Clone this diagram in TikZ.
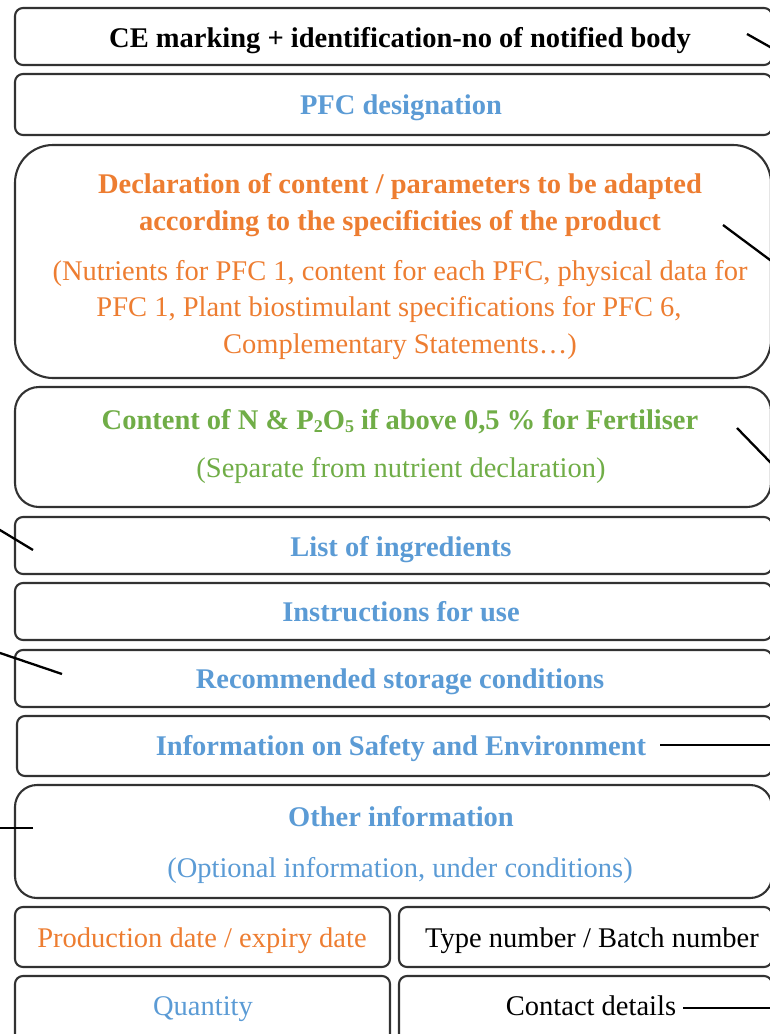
\documentclass[tikz,border=0pt]{standalone}
\usepackage{fontspec}
\setmainfont{Liberation Serif}
\definecolor{cblue}{RGB}{91,155,213}
\definecolor{corange}{RGB}{237,125,49}
\definecolor{cgreen}{RGB}{112,173,71}
\definecolor{cborder}{RGB}{50,50,50}
\newcommand{\mysub}[1]{\raisebox{-0.12em}{\fontsize{18}{18}\selectfont #1}}
\tikzset{
  box/.style={draw=cborder, line width=2.1pt, rounded corners=8pt, anchor=north west, inner sep=0pt, outer sep=0pt},
  lbl/.style={font=\fontsize{28.5}{36.5}\selectfont, anchor=base, inner sep=0pt},
  hd/.style={font=\fontsize{28.5}{36.5}\selectfont\bfseries, anchor=base, inner sep=0pt},
  conn/.style={line width=2.3pt, black},
}
\begin{document}
\begin{tikzpicture}[x=1pt,y=-1pt]
\path[use as bounding box] (0,0) rectangle (770,1034);
\clip (0,0) rectangle (770,1034);
% boxes
\node[box, minimum width=757pt, minimum height=57pt] (b1) at (15,8) {};
\node[box, minimum width=757pt, minimum height=61pt] (b2) at (15,74) {};
\node[box, rounded corners=38pt, minimum width=756pt, minimum height=233pt] (b3) at (15,145) {};
\node[box, rounded corners=24pt, minimum width=756pt, minimum height=120pt] (b4) at (15,387) {};
\node[box, minimum width=757pt, minimum height=57pt] (b5) at (15,517) {};
\node[box, minimum width=757pt, minimum height=57pt] (b6) at (15,583) {};
\node[box, minimum width=757pt, minimum height=57pt] (b7) at (15,650) {};
\node[box, minimum width=755pt, minimum height=60pt] (b8) at (17,716) {};
\node[box, rounded corners=22pt, minimum width=757pt, minimum height=113pt] (b9) at (15,785) {};
\node[box, minimum width=375pt, minimum height=60pt] (b10) at (15,907) {};
\node[box, minimum width=373pt, minimum height=60pt] (b11) at (399,907) {};
\node[box, minimum width=375pt, minimum height=70pt] (b12) at (15,976) {};
\node[box, minimum width=373pt, minimum height=70pt] (b13) at (399,976) {};
% texts
\node[hd] (t1) at (400,47) {CE marking + identification-no of notified body};
\node[hd, text=cblue] (t2) at (401,114) {PFC designation};
\node[hd, text=corange] (t3a) at (400,193) {Declaration of content / parameters to be adapted};
\node[hd, text=corange] (t3b) at (400,230) {according to the specificities of the product};
\node[lbl, text=corange] (t3c) at (400,280) {(Nutrients for PFC 1, content for each PFC, physical data for};
\node[lbl, text=corange] (t3d) at (389,316) {PFC 1, Plant biostimulant specifications for PFC 6,};
\node[lbl, text=corange] (t3e) at (400,353) {Complementary Statements…)};
\node[hd, text=cgreen] (t4a) at (400,429) {Content of N \& P\mysub{2}O\mysub{5} if above 0,5 \% for Fertiliser};
\node[lbl, text=cgreen] (t4b) at (401,477) {(Separate from nutrient declaration)};
\node[hd, text=cblue] (t5) at (401,556) {List of ingredients};
\node[hd, text=cblue] (t6) at (401,621) {Instructions for use};
\node[hd, text=cblue] (t7) at (400,688) {Recommended storage conditions};
\node[hd, text=cblue] (t8) at (401,755) {Information on Safety and Environment};
\node[hd, text=cblue] (t9a) at (401,826) {Other information};
\node[lbl, text=cblue] (t9b) at (400,877) {(Optional information, under conditions)};
\node[lbl, text=corange] (t10) at (202,947) {Production date / expiry date};
\node[lbl] (t11) at (592,947) {Type number / Batch number};
\node[lbl, text=cblue] (t12) at (203,1015) {Quantity};
\node[lbl] (t13) at (591,1015) {Contact details};
% connector ends
\coordinate (a1) at (747,34);   \coordinate (z1) at (780,52.6);
\coordinate (a3) at (723,225);  \coordinate (z3) at (780,267.4);
\coordinate (a4) at (737,428);  \coordinate (z4) at (780,472.3);
\coordinate (a5) at (33,550);   \coordinate (z5) at (-10,524);
\coordinate (a7) at (62,674);   \coordinate (z7) at (-10,649.6);
\coordinate (a9) at (33,828);   \coordinate (z9) at (-10,828);
\coordinate (a8) at (660,745);  \coordinate (z8) at (780,745);
\coordinate (a13) at (683,1008); \coordinate (z13) at (780,1008);
\draw[conn] (a1) -- (z1);
\draw[conn] (a3) -- (z3);
\draw[conn] (a4) -- (z4);
\draw[conn] (a5) -- (z5);
\draw[conn] (a7) -- (z7);
\draw[conn] (a9) -- (z9);
\draw[conn] (a8) -- (z8);
\draw[conn] (a13) -- (z13);
\end{tikzpicture}
\end{document}
